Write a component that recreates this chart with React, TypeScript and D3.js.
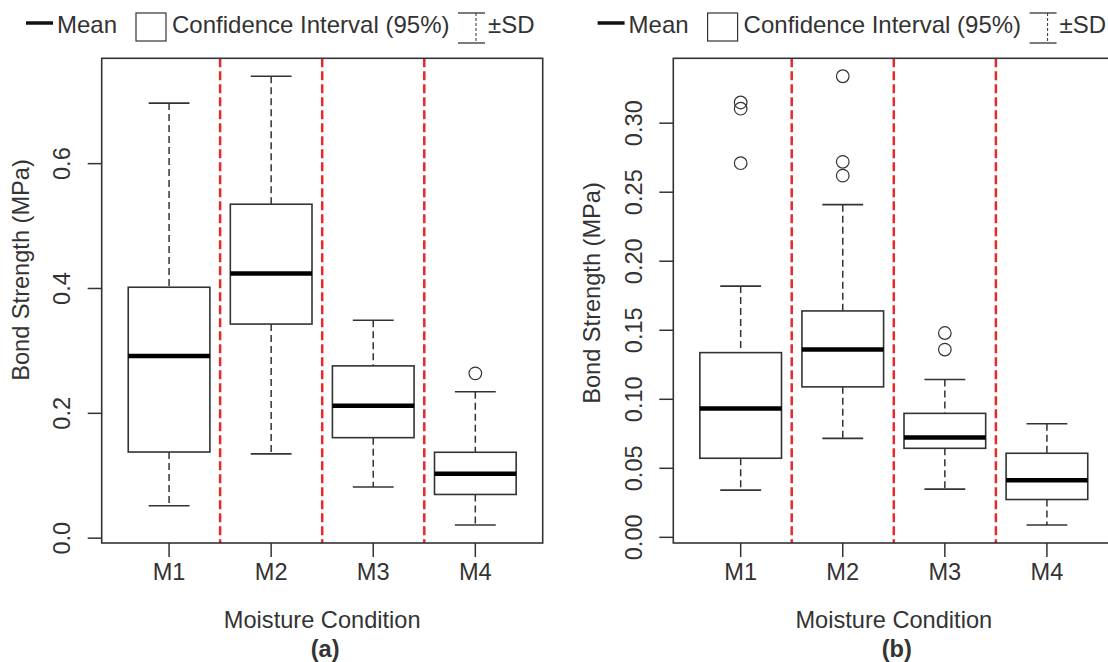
import React from "react";
import * as d3 from "d3";

const categories = ["M1", "M2", "M3", "M4"];

// Panel (a)
const meanA = [0.292, 0.424, 0.212, 0.103];
const boxLowA = [0.138, 0.343, 0.161, 0.07];
const boxHighA = [0.402, 0.535, 0.276, 0.1376];
const whiskerLowA = [0.052, 0.135, 0.082, 0.021];
const whiskerHighA = [0.697, 0.74, 0.349, 0.2346];
const outliersA = [[], [], [], [0.264]];
const ticksA = [0, 0.2, 0.4, 0.6];
const tickLabelsA = ["0.0", "0.2", "0.4", "0.6"];

// Panel (b)
const meanB = [0.0934, 0.136, 0.0724, 0.0414];
const boxLowB = [0.0573, 0.109, 0.0645, 0.0274];
const boxHighB = [0.1338, 0.164, 0.0898, 0.0609];
const whiskerLowB = [0.0342, 0.0717, 0.0349, 0.0089];
const whiskerHighB = [0.182, 0.241, 0.1143, 0.0823];
const outliersB = [[0.315, 0.3105, 0.271], [0.334, 0.272, 0.262], [0.148, 0.136], []];
const ticksB = [0, 0.05, 0.1, 0.15, 0.2, 0.25, 0.3];
const tickLabelsB = ["0.00", "0.05", "0.10", "0.15", "0.20", "0.25", "0.30"];

const FONT = "'Liberation Sans', Arial, Helvetica, sans-serif";
const INK = "#333";
const RED = "#e8282c";

const LEFT = 101.7;
const RIGHT = 542.7;
const TOP = 58.3;
const BOTTOM = 543;

function Panel({ dx, mean, boxLow, boxHigh, whiskerLow, whiskerHigh, outliers, ticks, tickLabels, ylabY, tag }) {
  const all = [...whiskerLow, ...whiskerHigh, ...outliers.flat()];
  const lo = d3.min(all) as number;
  const hi = d3.max(all) as number;
  const pad = (hi - lo) * 0.04;
  const y = d3.scaleLinear().domain([lo - pad, hi + pad]).range([BOTTOM, TOP]);
  const x = d3.scaleLinear().domain([0.34, 4.66]).range([LEFT, RIGHT]);
  const unit = x(1) - x(0);
  const boxW = 0.8 * unit;
  const capW = 0.4 * unit;
  const cx = (i) => x(i + 1);
  const fs = 23.6;
  const lfs = 24;

  return (
    <g transform={`translate(${dx},0)`} fontFamily={FONT} fill={INK}>
      {/* legend */}
      <line x1={26} x2={53} y1={23} y2={23} stroke="#111" strokeWidth={3.5} />
      <text x={57} y={33} fontSize={lfs}>Mean</text>
      <rect x={136} y={13} width={30} height={28} fill="none" stroke={INK} strokeWidth={1.2} />
      <text x={172} y={33} fontSize={lfs}>Confidence Interval (95%)</text>
      <line x1={458} x2={485} y1={13} y2={13} stroke={INK} strokeWidth={1.3} />
      <line x1={458} x2={485} y1={43} y2={43} stroke={INK} strokeWidth={1.3} />
      <line x1={476} x2={476} y1={13} y2={43} stroke={INK} strokeWidth={1} strokeDasharray="3 2" />
      <text x={488} y={33} fontSize={lfs}>±SD</text>

      {/* separators */}
      {[1.5, 2.5, 3.5].map((v) => (
        <line key={v} x1={x(v)} x2={x(v)} y1={TOP} y2={BOTTOM} stroke={RED} strokeWidth={2.5} strokeDasharray="9 4" />
      ))}

      {/* boxes */}
      {categories.map((c, i) => (
        <g key={c}>
          <line x1={cx(i)} x2={cx(i)} y1={y(whiskerHigh[i])} y2={y(boxHigh[i])} stroke={INK} strokeWidth={1.5} strokeDasharray="7 4" />
          <line x1={cx(i)} x2={cx(i)} y1={y(boxLow[i])} y2={y(whiskerLow[i])} stroke={INK} strokeWidth={1.5} strokeDasharray="7 4" />
          <line x1={cx(i) - capW / 2} x2={cx(i) + capW / 2} y1={y(whiskerHigh[i])} y2={y(whiskerHigh[i])} stroke={INK} strokeWidth={1.6} />
          <line x1={cx(i) - capW / 2} x2={cx(i) + capW / 2} y1={y(whiskerLow[i])} y2={y(whiskerLow[i])} stroke={INK} strokeWidth={1.6} />
          <rect x={cx(i) - boxW / 2} y={y(boxHigh[i])} width={boxW} height={y(boxLow[i]) - y(boxHigh[i])} fill="white" stroke={INK} strokeWidth={1.6} />
          <line x1={cx(i) - boxW / 2} x2={cx(i) + boxW / 2} y1={y(mean[i])} y2={y(mean[i])} stroke="#000" strokeWidth={4.5} />
          {outliers[i].map((o, k) => (
            <circle key={k} cx={cx(i)} cy={y(o)} r={6.3} fill="none" stroke={INK} strokeWidth={1.2} />
          ))}
        </g>
      ))}

      {/* frame */}
      <rect x={LEFT} y={TOP} width={RIGHT - LEFT} height={BOTTOM - TOP} fill="none" stroke={INK} strokeWidth={1.6} />

      {/* y axis */}
      {ticks.map((t, k) => (
        <g key={t}>
          <line x1={LEFT - 14} x2={LEFT} y1={y(t)} y2={y(t)} stroke={INK} strokeWidth={1.5} />
          <text transform={`translate(70,${y(t)}) rotate(-90)`} textAnchor="middle" fontSize={fs}>{tickLabels[k]}</text>
        </g>
      ))}
      <text transform={`translate(28.5,${ylabY}) rotate(-90)`} textAnchor="middle" fontSize={fs}>Bond Strength (MPa)</text>

      {/* x axis */}
      {categories.map((c, i) => (
        <g key={c}>
          <line x1={cx(i)} x2={cx(i)} y1={BOTTOM} y2={BOTTOM + 14} stroke={INK} strokeWidth={1.5} />
          <text x={cx(i)} y={580} textAnchor="middle" fontSize={fs}>{c}</text>
        </g>
      ))}
      <text x={(LEFT + RIGHT) / 2} y={628} textAnchor="middle" fontSize={fs}>Moisture Condition</text>
      <text x={(LEFT + RIGHT) / 2 + 3} y={657} textAnchor="middle" fontSize={fs} fontWeight="bold">{tag}</text>
    </g>
  );
}

export default function App() {
  return (
    <svg width={1108} height={662} style={{ position: "absolute", left: 0, top: 0, background: "white" }}>
      <rect x={0} y={0} width={1108} height={662} fill="white" />
      <Panel dx={0} mean={meanA} boxLow={boxLowA} boxHigh={boxHighA} whiskerLow={whiskerLowA} whiskerHigh={whiskerHighA}
        outliers={outliersA} ticks={ticksA} tickLabels={tickLabelsA} ylabY={270} tag="(a)" />
      <Panel dx={571.6} mean={meanB} boxLow={boxLowB} boxHigh={boxHighB} whiskerLow={whiskerLowB} whiskerHigh={whiskerHighB}
        outliers={outliersB} ticks={ticksB} tickLabels={tickLabelsB} ylabY={293} tag="(b)" />
    </svg>
  );
}
